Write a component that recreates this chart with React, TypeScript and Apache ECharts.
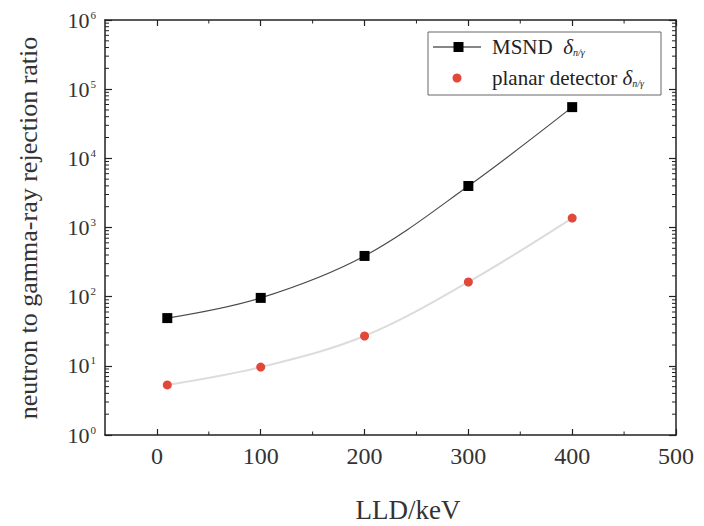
import React, { useEffect, useRef } from "react";
import * as echarts from "echarts";

const xTicks = [0, 100, 200, 300, 400, 500];
const xMinorTicks = [50, 150, 250, 350, 450];
const yDecades = [1, 10, 100, 1000, 10000, 100000, 1000000];
const lldValues = [10, 100, 200, 300, 400];
const msndValues = [49, 96, 388, 3980, 55000];
const planarValues = [5.3, 9.6, 27, 163, 1370];
const seriesNames = ["MSND", "planar detector"];
const xTitle = "LLD/keV";
const yTitle = "neutron to gamma-ray rejection ratio";

const FONT = "Liberation Serif";
const AXIS_COLOR = "#222";
const RED = "#e2483a";

export default function App() {
  const ref = useRef<HTMLDivElement>(null);

  useEffect(() => {
    document.body.style.margin = "0";
    if (!ref.current) return;
    const chart = echarts.init(ref.current, undefined, { renderer: "svg" });

    const yMinor: number[][] = [];
    for (let i = 0; i < yDecades.length - 1; i++) {
      for (let k = 2; k <= 9; k++) yMinor.push([-50, yDecades[i] * k]);
    }
    const xMinor = xMinorTicks.map((v) => [v, 1]);

    const xBase = {
      type: "value",
      min: -50,
      max: 500,
      splitLine: { show: false },
      axisLine: { show: true, onZero: false, lineStyle: { color: AXIS_COLOR, width: 1.5 } },
      axisTick: { show: true, inside: true, length: 6, customValues: xTicks, lineStyle: { color: AXIS_COLOR, width: 1.2 } },
    };
    const yBase = {
      type: "log",
      logBase: 10,
      min: 1,
      max: 1000000,
      splitNumber: 6,
      splitLine: { show: false },
      minorTick: { show: false },
      axisLine: { show: true, onZero: false, lineStyle: { color: AXIS_COLOR, width: 1.5 } },
      axisTick: { show: true, inside: true, length: 7, lineStyle: { color: AXIS_COLOR, width: 1.2 } },
    };

    const richSub = {
      d: { fontSize: 21, fontFamily: FONT, fontStyle: "italic", fill: "#222" },
      s: { fontSize: 10, fontFamily: FONT, fontStyle: "italic", fill: "#222", verticalAlign: "bottom", padding: [8, 0, 0, 0] },
    };

    chart.setOption({
      animation: false,
      backgroundColor: "#fff",
      textStyle: { fontFamily: FONT },
      grid: { left: 105, right: 28, top: 20, bottom: 91, containLabel: false },
      xAxis: [
        {
          ...xBase,
          position: "bottom",
          axisLabel: {
            show: true,
            customValues: xTicks,
            margin: 9,
            fontSize: 24,
            fontFamily: FONT,
            color: "#333",
          },
        },
        { ...xBase, position: "top", axisLabel: { show: false } },
      ],
      yAxis: [
        {
          ...yBase,
          position: "left",
          axisLabel: {
            show: true,
            margin: 9,
            fontSize: 22,
            fontFamily: FONT,
            color: "#333",
            formatter: (v: number) => `{b|10}{s|${Math.round(Math.log10(v))}}`,
            rich: {
              b: { fontSize: 22, fontFamily: FONT, color: "#333" },
              s: { fontSize: 11, fontFamily: FONT, color: "#333", verticalAlign: "bottom", padding: [0, 0, 11, 1] },
            },
          },
        },
        { ...yBase, position: "right", axisLabel: { show: false } },
      ],
      graphic: [
        {
          type: "text",
          x: 408,
          y: 510,
          style: { text: xTitle, fontSize: 27, fontFamily: FONT, fill: "#333", align: "center", verticalAlign: "middle" },
        },
        {
          type: "text",
          x: 28,
          y: 228,
          rotation: Math.PI / 2,
          style: { text: yTitle, fontSize: 26, fontFamily: FONT, fill: "#333", align: "center", verticalAlign: "middle" },
        },
        {
          type: "rect",
          shape: { x: 428, y: 32, width: 233, height: 63 },
          style: { fill: "#fff", stroke: "#666", lineWidth: 1 },
          z: 100,
        },
        {
          type: "line",
          shape: { x1: 433, y1: 47, x2: 481, y2: 47 },
          style: { stroke: "#111", lineWidth: 1.2 },
          z: 101,
        },
        {
          type: "rect",
          shape: { x: 453.5, y: 42, width: 10, height: 10 },
          style: { fill: "#000" },
          z: 102,
        },
        {
          type: "circle",
          shape: { cx: 457, cy: 78, r: 4.5 },
          style: { fill: RED },
          z: 102,
        },
        {
          type: "text",
          x: 492,
          y: 47,
          z: 102,
          style: {
            text: `${seriesNames[0]}  {d|δ}{s|n/γ}`,
            fontSize: 21,
            fontFamily: FONT,
            fill: "#222",
            verticalAlign: "middle",
            rich: richSub,
          },
        },
        {
          type: "text",
          x: 492,
          y: 78,
          z: 102,
          style: {
            text: `${seriesNames[1]} {d|δ}{s|n/γ}`,
            fontSize: 21,
            fontFamily: FONT,
            fill: "#222",
            verticalAlign: "middle",
            rich: richSub,
          },
        },
      ],
      series: [
        {
          name: seriesNames[1],
          type: "line",
          smooth: 0.35,
          data: lldValues.map((x, i) => [x, planarValues[i]]),
          symbol: "circle",
          symbolSize: 9,
          itemStyle: { color: RED },
          lineStyle: { color: "#dcdcdc", width: 2 },
          z: 3,
        },
        {
          name: seriesNames[0],
          type: "line",
          smooth: 0.35,
          data: lldValues.map((x, i) => [x, msndValues[i]]),
          symbol: "rect",
          symbolSize: 10,
          itemStyle: { color: "#000" },
          lineStyle: { color: "#4a4a4a", width: 1.2 },
          z: 4,
        },
        {
          type: "custom",
          silent: true,
          clip: false,
          data: yMinor,
          encode: { x: 0, y: 1 },
          renderItem: (_p: any, api: any) => {
            const v = api.value(1);
            const l = api.coord([-50, v]);
            const r = api.coord([500, v]);
            const st = { stroke: AXIS_COLOR, lineWidth: 1 };
            return {
              type: "group",
              children: [
                { type: "line", shape: { x1: l[0], y1: l[1], x2: l[0] + 4, y2: l[1] }, style: st },
                { type: "line", shape: { x1: r[0] - 4, y1: r[1], x2: r[0], y2: r[1] }, style: st },
              ],
            };
          },
          z: 5,
        },
        {
          type: "custom",
          silent: true,
          clip: false,
          data: xMinor,
          encode: { x: 0, y: 1 },
          renderItem: (_p: any, api: any) => {
            const v = api.value(0);
            const b = api.coord([v, 1]);
            const t = api.coord([v, 1000000]);
            const st = { stroke: AXIS_COLOR, lineWidth: 1 };
            return {
              type: "group",
              children: [
                { type: "line", shape: { x1: b[0], y1: b[1], x2: b[0], y2: b[1] - 3.5 }, style: st },
                { type: "line", shape: { x1: t[0], y1: t[1], x2: t[0], y2: t[1] + 3.5 }, style: st },
              ],
            };
          },
          z: 5,
        },
      ],
    });

    return () => chart.dispose();
  }, []);

  return <div ref={ref} style={{ width: 704, height: 526 }} />;
}
